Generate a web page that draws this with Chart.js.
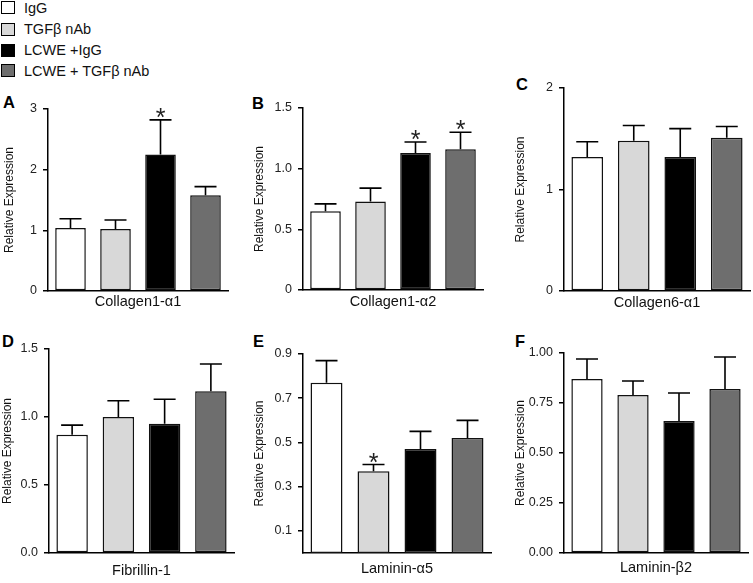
<!DOCTYPE html>
<html>
<head>
<meta charset="utf-8">
<script src="https://cdn.jsdelivr.net/npm/chart.js@4.4.1/dist/chart.umd.min.js"></script>
<style>
  body { margin: 0; background: #fff; width: 753px; height: 583px; position: relative; overflow: hidden;
         font-family: "Liberation Sans", Arial, sans-serif; }
  canvas { position: absolute; }
  .letter { position: absolute; font-weight: bold; font-size: 16.5px; line-height: 1; color: #000; }
  .key { position: absolute; left: 1px; width: 12px; height: 11px; border: 1.5px solid #000; }
  .keytext { position: absolute; left: 24px; font-size: 14.5px; line-height: 1; color: #111; white-space: nowrap; }
</style>
</head>
<body>
<div id="legend"></div>
<div id="letters"></div>

<script>
// treatment groups and their bar fills
const groups = ["IgG", "TGFβ nAb", "LCWE +IgG", "LCWE + TGFβ nAb"];
const barColors = ["#ffffff", "#d8d8d8", "#000000", "#6e6e6e"];

const genes = ["Collagen1-α1", "Collagen1-α2", "Collagen6-α1", "Fibrillin-1", "Laminin-α5", "Laminin-β2"];
const letters = ["A", "B", "C", "D", "E", "F"];

// means and (upper) error per gene
const col1a1 = [1.04, 1.02, 2.25, 1.58];
const col1a1Err = [0.15, 0.15, 0.57, 0.14];
const col1a2 = [0.65, 0.73, 1.13, 1.16];
const col1a2Err = [0.06, 0.11, 0.09, 0.14];
const col6a1 = [1.32, 1.48, 1.32, 1.51];
const col6a1Err = [0.15, 0.15, 0.28, 0.11];
const fbn1 = [0.87, 1.00, 0.95, 1.19];
const fbn1Err = [0.07, 0.12, 0.18, 0.20];
const lama5 = [0.77, 0.37, 0.47, 0.52];
const lama5Err = [0.10, 0.03, 0.08, 0.08];
const lamb2 = [0.87, 0.79, 0.66, 0.82];
const lamb2Err = [0.10, 0.07, 0.14, 0.16];

// significance marks (*)
const starsA = [false, false, true, false];
const starsB = [false, false, true, true];
const starsE = [false, true, false, false];
const noStars = [false, false, false, false];

// y tick labels per panel
const ticksA = ["0", "1", "2", "3"];
const ticksB = ["0", "0.5", "1.0", "1.5"];
const ticksC = ["0", "1", "2"];
const ticksD = ["0.0", "0.5", "1.0", "1.5"];
const ticksE = ["0.1", "0.3", "0.5", "0.7", "0.9"];
const ticksF = ["0.00", "0.25", "0.50", "0.75", "1.00"];

const panels = [
  { means: col1a1, errs: col1a1Err, stars: starsA, ticks: ticksA },
  { means: col1a2, errs: col1a2Err, stars: starsB, ticks: ticksB },
  { means: col6a1, errs: col6a1Err, stars: noStars, ticks: ticksC },
  { means: fbn1, errs: fbn1Err, stars: noStars, ticks: ticksD },
  { means: lama5, errs: lama5Err, stars: starsE, ticks: ticksE },
  { means: lamb2, errs: lamb2Err, stars: noStars, ticks: ticksF }
];

// where each plot sits on the page (canvas left, axis x, plot top/right/bottom, x title centre)
const boxes = [
  { L: 0,   axis: 48,  top: 109, right: 228, bottom: 291, titleY: 302, letter: [3, 94] },
  { L: 250, axis: 303, top: 108, right: 483, bottom: 290, titleY: 302, letter: [252, 95] },
  { L: 511, axis: 564, top: 88,  right: 750, bottom: 291, titleY: 303, letter: [516, 76] },
  { L: -2,  axis: 49,  top: 349, right: 234, bottom: 553, titleY: 571, letter: [2, 333] },
  { L: 250, axis: 303, top: 354, right: 491, bottom: 553, titleY: 569, letter: [253, 333] },
  { L: 511, axis: 564, top: 353, right: 748, bottom: 553, titleY: 568, letter: [515, 333] }
];

// legend
const legendRows = [8.3, 29.5, 50.5, 71];
let lg = "";
groups.forEach((g, i) => {
  lg += `<div class="key" style="top:${legendRows[i] - 7}px;background:${barColors[i]}"></div>`;
  lg += `<div class="keytext" style="top:${legendRows[i] - 7.1}px">${g}</div>`;
});
document.getElementById("legend").innerHTML = lg;

let lt = "";
boxes.forEach((b, i) => {
  lt += `<div class="letter" style="left:${b.letter[0]}px;top:${b.letter[1]}px">${letters[i]}</div>`;
});
document.getElementById("letters").innerHTML = lt;

// upward error bars and asterisks
const errorBars = {
  id: "errorBars",
  afterDatasetsDraw(chart) {
    const { ctx, scales: { y } } = chart;
    const ds = chart.data.datasets[0];
    const meta = chart.getDatasetMeta(0);
    ctx.save();
    ctx.strokeStyle = "#000";
    ctx.lineWidth = 1.6;
    ctx.fillStyle = "#222";
    ctx.font = "25px 'Liberation Sans', Arial, sans-serif";
    ctx.textAlign = "center";
    ctx.textBaseline = "alphabetic";
    meta.data.forEach((bar, i) => {
      const top = y.getPixelForValue(ds.data[i] + ds.errs[i]);
      ctx.beginPath();
      ctx.moveTo(bar.x, bar.y);
      ctx.lineTo(bar.x, top);
      ctx.moveTo(bar.x - 11, top);
      ctx.lineTo(bar.x + 11, top);
      ctx.stroke();
      if (ds.stars[i]) ctx.fillText("*", bar.x, top + 6);
    });
    ctx.restore();
  }
};

const padTop = 14, padRight = 3;

panels.forEach((p, i) => {
  const b = boxes[i];
  const yWidth = b.axis - b.L;
  const xHeight = b.titleY - b.bottom + 9;
  const canvasTop = b.top - padTop;
  const w = Math.round(b.right + padRight - b.L);
  const h = Math.round(b.bottom + xHeight - canvasTop);

  const cv = document.createElement("canvas");
  cv.width = w;
  cv.height = h;
  cv.style.left = b.L + "px";
  cv.style.top = canvasTop + "px";
  document.body.appendChild(cv);

  const tickVals = p.ticks.map(Number);

  new Chart(cv, {
    type: "bar",
    data: {
      labels: groups,
      datasets: [{
        data: p.means,
        errs: p.errs,
        stars: p.stars,
        backgroundColor: barColors,
        borderColor: "#111",
        borderWidth: 1.5,
        borderSkipped: false,
        barPercentage: 0.68,
        categoryPercentage: 1.0
      }]
    },
    options: {
      responsive: false,
      animation: false,
      layout: { padding: { top: padTop, right: padRight, left: 0, bottom: 0 } },
      plugins: { legend: { display: false }, tooltip: { enabled: false } },
      scales: {
        x: {
          grid: { display: false },
          border: { display: true, color: "#000", width: 1.5 },
          ticks: { display: false },
          title: {
            display: true, text: genes[i], color: "#111", padding: 0,
            font: { size: 14.5, family: "'Liberation Sans', Arial, sans-serif" }
          },
          afterFit(scale) { scale.height = xHeight; }
        },
        y: {
          min: 0,
          max: tickVals[tickVals.length - 1],
          grid: { display: true, drawOnChartArea: false, drawTicks: true, tickLength: 5, color: "#000", lineWidth: 1.5 },
          border: { display: true, color: "#000", width: 1.5 },
          ticks: {
            color: "#222", padding: 6,
            font: { size: 12.5, family: "'Liberation Sans', Arial, sans-serif" },
            callback: (v, idx) => p.ticks[idx]
          },
          afterBuildTicks(scale) { scale.ticks = tickVals.map(v => ({ value: v })); },
          title: {
            display: true, text: "Relative Expression", color: "#111", padding: { top: 2, bottom: 0 },
            font: { size: 12, family: "'Liberation Sans', Arial, sans-serif" }
          },
          afterFit(scale) { scale.width = yWidth; }
        }
      }
    },
    plugins: [errorBars]
  });
});
</script>
</body>
</html>
